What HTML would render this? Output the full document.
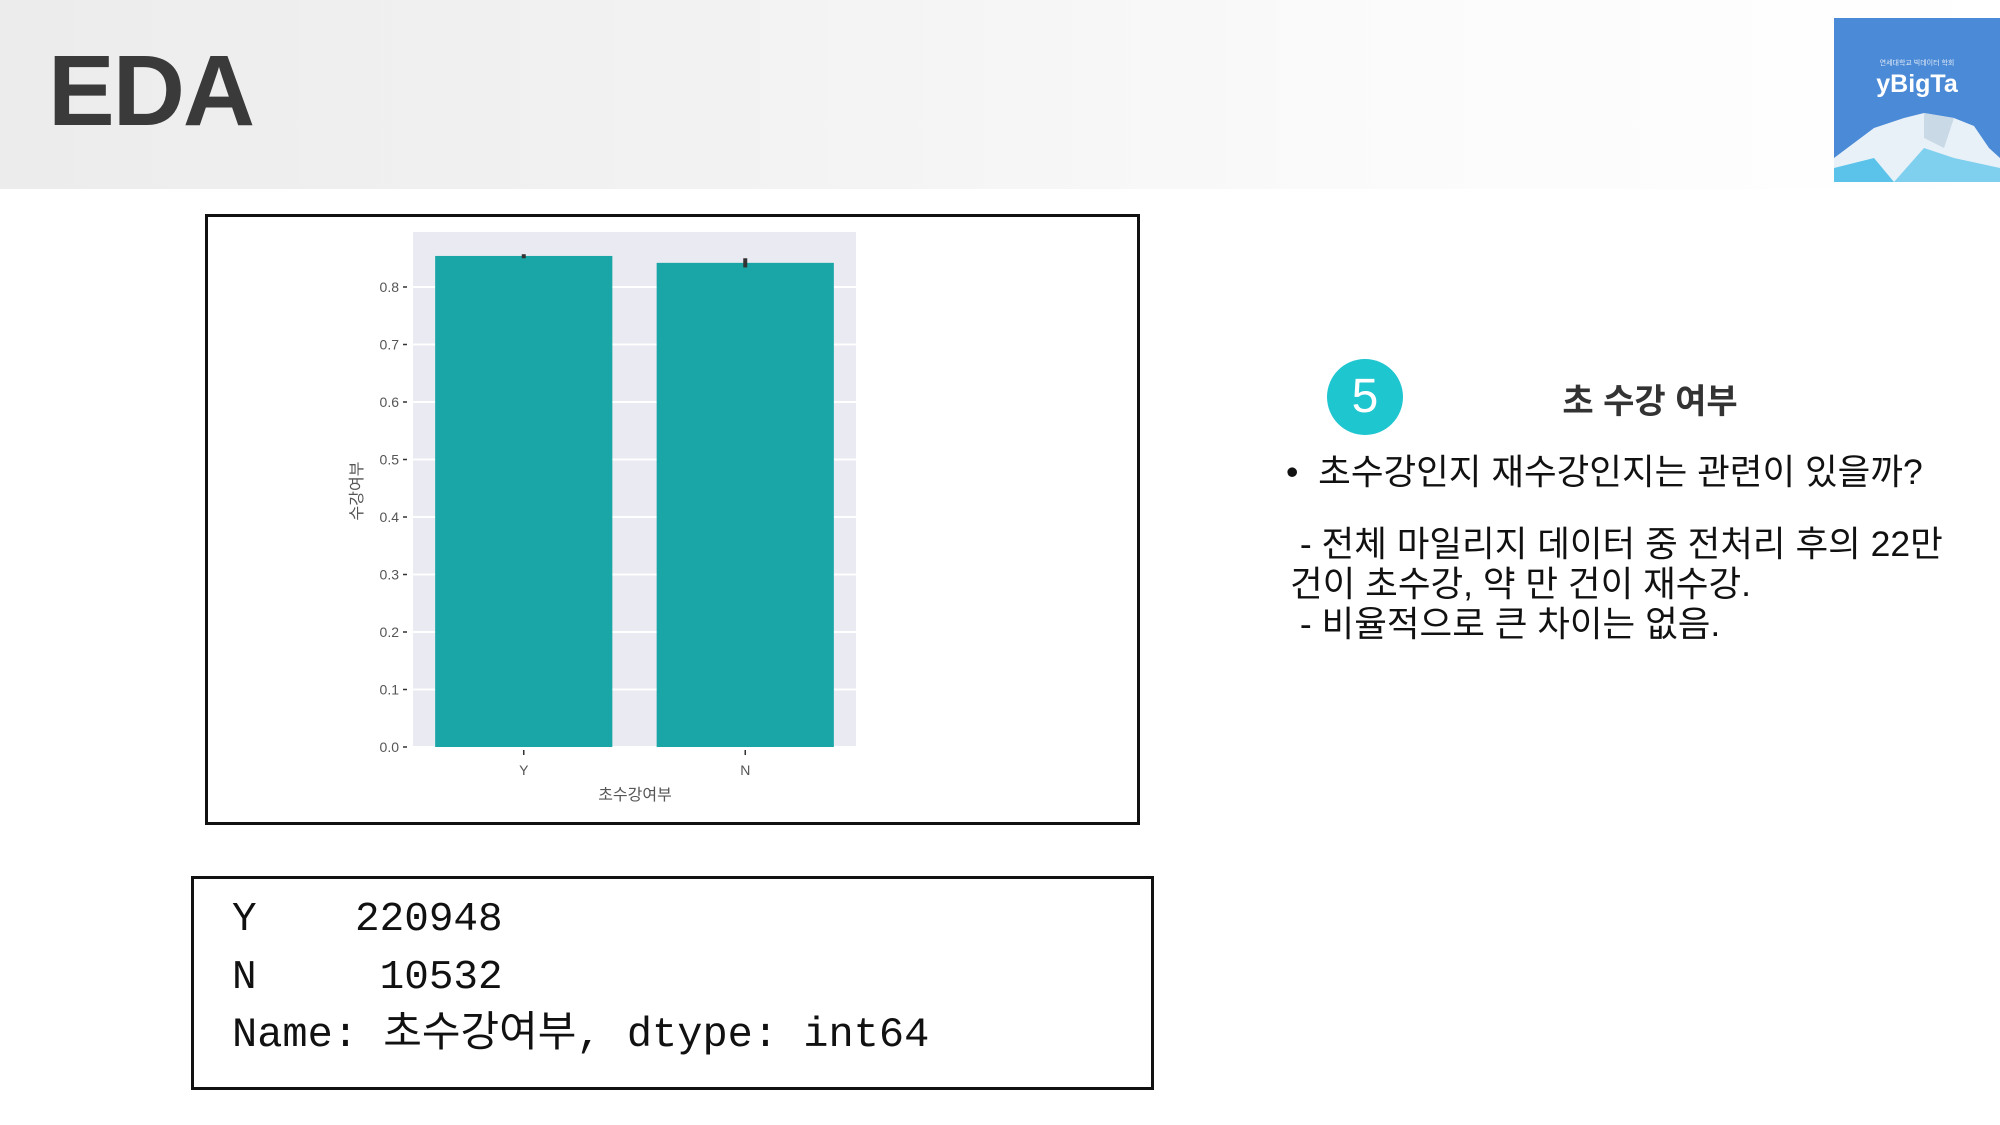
<!DOCTYPE html>
<html><head><meta charset="utf-8"><style>
body{margin:0;width:2000px;height:1125px;overflow:hidden;background:#fff;position:relative;font-family:"Liberation Sans","Noto Sans CJK KR",sans-serif;color:#222}
.abs{position:absolute}
#hdr{left:0;top:0;width:2000px;height:189px;background:linear-gradient(90deg,#ececec 0%,#f3f3f3 40%,#fbfbfb 70%,#fff 100%)}
#eda{left:48px;top:34px;font-size:100px;font-weight:bold;color:#3a3a3a;letter-spacing:-2px}
#logo{left:1834px;top:18px;width:166px;height:164px;background:#4b8ad6;overflow:hidden}
.box{border:3px solid #111;box-sizing:border-box}
.mono{font-family:"Liberation Mono","Noto Sans CJK KR",monospace;font-size:41px;line-height:50px;height:50px;color:#111;white-space:pre}
.rt{font-size:35.5px;color:#111;white-space:pre}
</style></head><body>
<div id="hdr" class="abs"></div>
<div id="eda" class="abs">EDA</div>
<div id="logo" class="abs">
<div class="abs" style="left:0;top:40px;width:166px;text-align:center;font-size:7px;color:#dfe9f7">연세대학교 빅데이터 학회</div>
<div class="abs" style="left:0;top:52px;width:166px;text-align:center;font-size:25px;font-weight:bold;color:#fff">yBigTa</div>
<svg class="abs" style="left:0;top:0" width="166" height="164"><polygon points="0,164 0,140 40,110 70,100 90,95 120,100 140,108 155,130 166,140 166,164" fill="#e8f1f8"/><polygon points="60,164 90,130 120,140 166,150 166,164" fill="#7fd0ee"/><polygon points="0,164 0,150 40,140 60,164" fill="#5bc3ea"/><polygon points="90,95 120,100 110,130 90,120" fill="#c9d9e6"/></svg>
</div>

<div class="abs box" style="left:205px;top:214px;width:935px;height:611px"></div>
<svg class="abs" style="left:0;top:0" width="2000" height="1125" id="chart"></svg>

<div class="abs box" style="left:191px;top:876px;width:963px;height:214px"></div>
<div class="abs mono" style="left:232px;top:895px">Y    220948</div>
<div class="abs mono" style="left:232px;top:953px">N     10532</div>
<div class="abs mono" style="left:232px;top:1010px;font-size:42px">Name: 초수강여부, dtype: int64</div>

<div class="abs" style="left:1327px;top:359px;width:76px;height:76px;border-radius:50%;background:#1ec6cf;color:#fff;font-size:48px;text-align:center;line-height:76px">5</div>
<div class="abs" style="left:1540px;top:374px;width:220px;text-align:center;font-size:34px;font-weight:bold;color:#333">초 수강 여부</div>
<div class="abs rt" style="left:1286px;top:444px">•  초수강인지 재수강인지는 관련이 있을까?</div>
<div class="abs rt" style="left:1290px;top:524px;line-height:40px"> - 전체 마일리지 데이터 중 전처리 후의 22만
건이 초수강, 약 만 건이 재수강.
 - 비율적으로 큰 차이는 없음.</div>

<script>
const categories=["Y","N"];
const values=[0.854,0.842];
const errLow=[0.850,0.834];
const errHigh=[0.857,0.850];
const yTicks=[0,0.1,0.2,0.3,0.4,0.5,0.6,0.7,0.8];
const yTickLabels=["0.0","0.1","0.2","0.3","0.4","0.5","0.6","0.7","0.8"];
const NS="http://www.w3.org/2000/svg";
const svg=document.getElementById('chart');
const PL=413,PR=856,PT=232,PB=747;
const y=v=>PB-v/0.1*57.5;
const slot=(PR-PL)/categories.length;
const x=i=>PL+slot*(i+0.5);
function mk(t,a){const e=document.createElementNS(NS,t);for(const k in a)e.setAttribute(k,a[k]);svg.appendChild(e);return e;}
let bg=mk('rect',{x:PL,y:PT,width:PR-PL,height:PB-PT,fill:'#eaeaf2'});


yTicks.forEach((t,i)=>{
 let g=mk('line',{x1:PL,x2:PR,y1:y(t),y2:y(t),stroke:'#fff','stroke-width':2});
 
 
 mk('line',{x1:PL-10,x2:PL-6,y1:y(t),y2:y(t),stroke:'#333','stroke-width':1.5});
 let l=mk('text',{x:PL-14,y:y(t)+5,'text-anchor':'end','font-size':14,fill:'#555','font-family':'Liberation Sans, sans-serif'});
 l.textContent=yTickLabels[i];
 
 
});
const bw=slot*0.8;
categories.forEach((c,i)=>{
 let b=mk('rect',{x:x(i)-bw/2,y:y(values[i]),width:bw,height:PB-y(values[i]),fill:'#1aa6a6'});
 
 
 let e=mk('line',{x1:x(i),x2:x(i),y1:y(errLow[i]),y2:y(errHigh[i]),stroke:'#333','stroke-width':4});
 
 
 mk('line',{x1:x(i),x2:x(i),y1:PB+3,y2:PB+8,stroke:'#333','stroke-width':1.5});
 let t=mk('text',{x:x(i),y:PB+28,'text-anchor':'middle','font-size':14,fill:'#555','font-family':'Liberation Sans, sans-serif'});
 t.textContent=c;
 
 
});
let xt=mk('text',{x:635,y:800,'text-anchor':'middle','font-size':16,fill:'#555','font-family':'Noto Sans CJK KR, sans-serif'});
xt.textContent='초수강여부';


let yt=mk('text',{x:0,y:0,'text-anchor':'middle','font-size':16,fill:'#555','font-family':'Noto Sans CJK KR, sans-serif',transform:'translate(362,491) rotate(-90)'});
yt.textContent='수강여부';


</script>
</body></html>
